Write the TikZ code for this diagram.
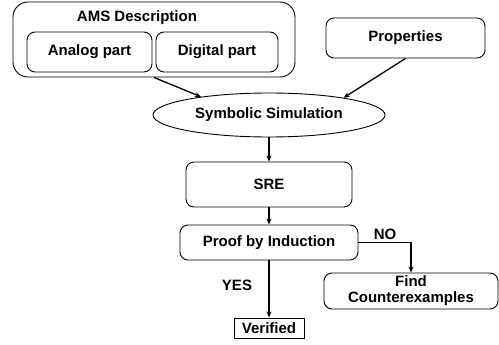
\documentclass[tikz,border=0pt]{standalone}
\usepackage{fontspec}
\setmainfont{Liberation Sans}
\usetikzlibrary{shapes.geometric,arrows.meta}
\begin{document}
\begin{tikzpicture}[x=1pt,y=-1pt,
  every node/.style={font=\fontsize{15}{16}\selectfont\bfseries, inner sep=0pt},
  rbox/.style={draw, rounded corners=8pt, line width=0.9pt, align=center},
  arr/.style={line width=1.3pt, -{Stealth[length=6pt,width=5pt]}},
  lbl/.style={}
]
\useasboundingbox (0,0) rectangle (499,345);
\node[rbox, rounded corners=15pt, minimum width=282pt, minimum height=75pt] (ams) at (154,39.5) {};
\node[lbl] (amsl) at (137,18) {AMS Description};
\node[rbox, minimum width=125pt, minimum height=40pt] (analog) at (89.5,52) {Analog part};
\node[rbox, minimum width=122pt, minimum height=40pt] (digital) at (217,52) {Digital part};
\node[rbox, minimum width=159pt, minimum height=40pt] (props) at (405.5,38) {Properties};
\node[draw, ellipse, line width=0.9pt, minimum width=232pt, minimum height=44pt] (sym) at (269,115) {Symbolic Simulation};
\node[rbox, minimum width=166pt, minimum height=45pt] (sre) at (269,184.5) {SRE};
\node[rbox, minimum width=178pt, minimum height=35pt] (proof) at (269,242.5) {Proof by Induction};
\node[rbox, minimum width=174pt, minimum height=36pt] (find) at (411,291) {Find\\Counterexamples};
\node[draw, line width=0.9pt, minimum width=70pt, minimum height=20pt] (ver) at (269,328) {Verified};
\node[lbl] (no) at (385,234) {NO};
\node[lbl] (yes) at (237,285) {YES};
\draw[arr] (ams.south) -- (sym.165);
\draw[arr] (props.south) -- (sym.13);
\draw[arr] (sym.south) -- (sre.north);
\draw[arr] (sre.south) -- (proof.north);
\draw[arr] (proof.east) -| (find.north);
\draw[arr] (proof.south) -- (ver.north);
\end{tikzpicture}
\end{document}
